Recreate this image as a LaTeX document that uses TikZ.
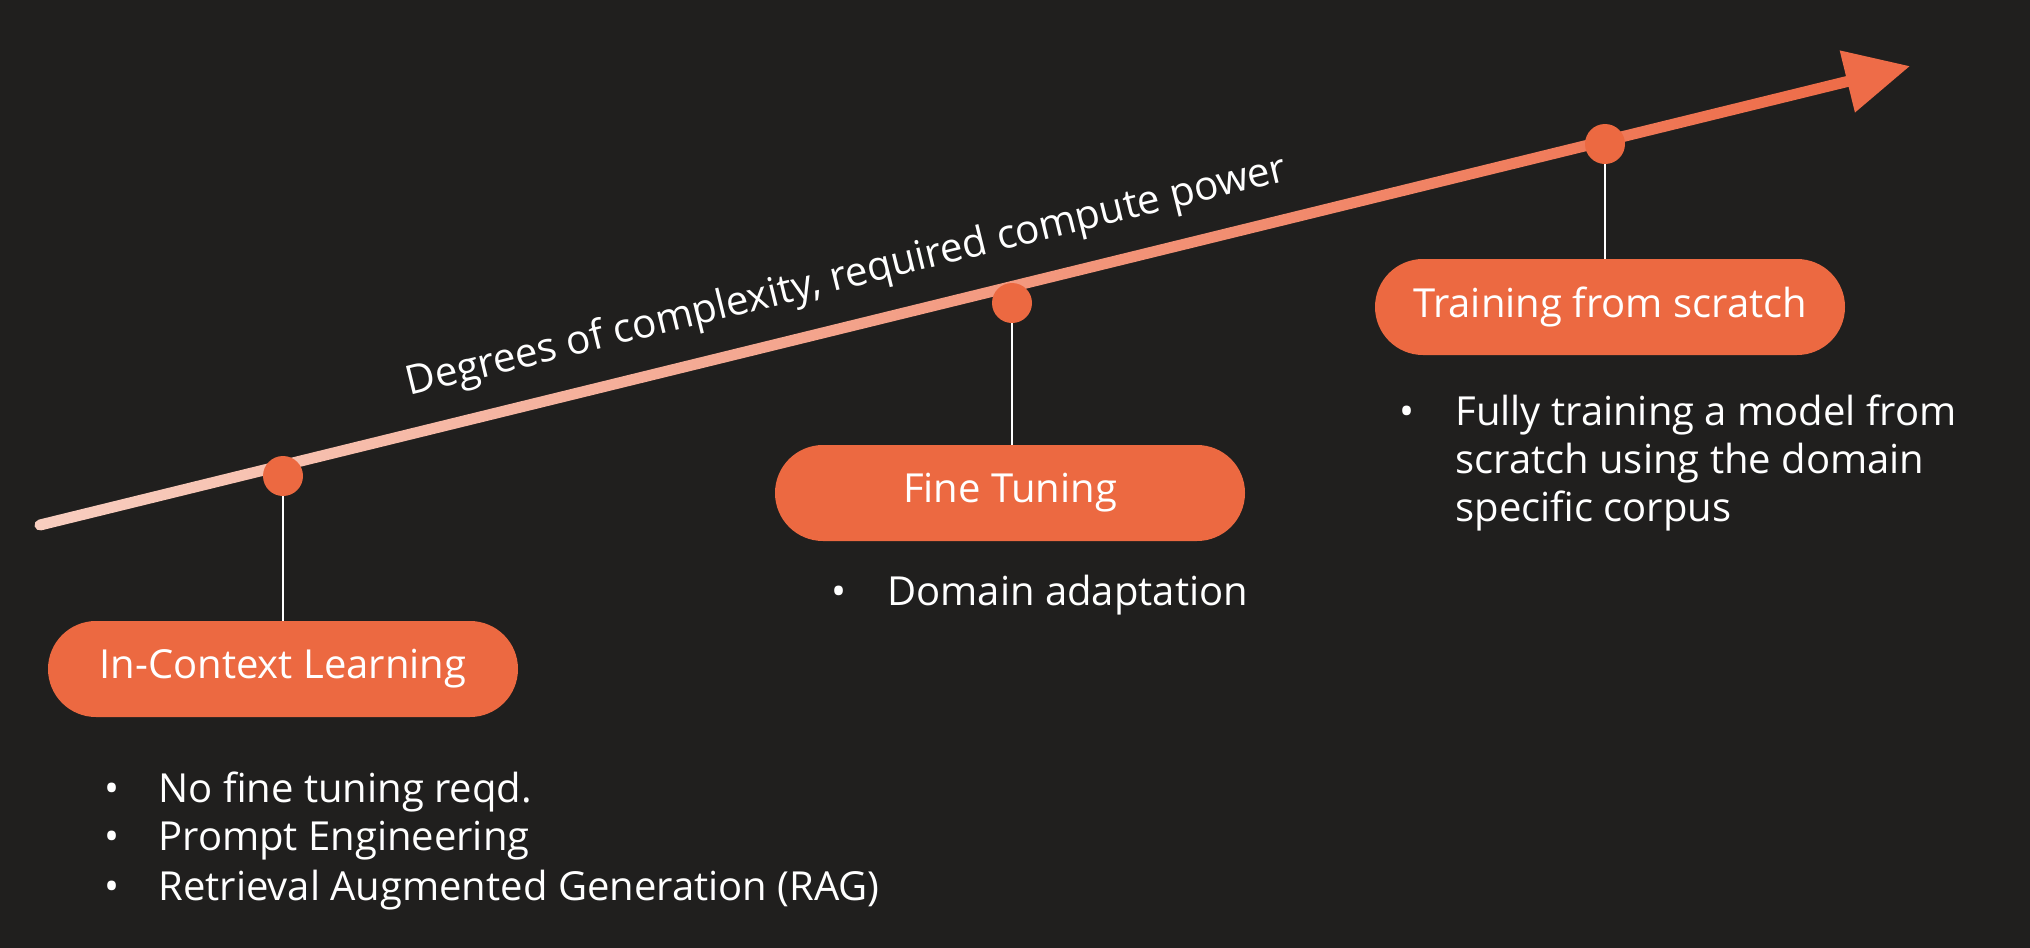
\documentclass[tikz,border=0pt]{standalone}
\usepackage{fontspec}
\setmainfont{Open Sans}
\usepackage{tikz}
\usetikzlibrary{arrows.meta,positioning,calc}
\definecolor{bgdark}{HTML}{201F1E}
\definecolor{acc}{HTML}{EC6941}
\definecolor{pale}{HTML}{F8CEC0}
\definecolor{midc}{HTML}{F4B29C}
\definecolor{tipc}{HTML}{EE6C48}
\tikzset{
  pill/.style={fill=acc,rounded corners=24pt,minimum width=235pt,minimum height=48pt,inner sep=0pt,
    font=\fontsize{20}{24}\selectfont,text=white},
  dot/.style={circle,fill=acc,minimum size=20pt,inner sep=0pt},
  stem/.style={draw=white,line width=1pt},
  note/.style={font=\fontsize{20}{24}\selectfont,text=white,inner sep=0pt,anchor=base west},
  bul/.style={note,anchor=base},
}

\begin{document}
\begin{tikzpicture}[x=0.5pt,y=-0.5pt]
\fill[bgdark] (0,0) rectangle (2030,948);
\useasboundingbox (0,0) rectangle (2030,948);
% axis
\begin{scope}[shift={(40,525)},rotate=13.79,y=0.5pt]
  \shade[left color=pale,middle color=midc,right color=tipc]
    (0,5.5) arc[start angle=90,end angle=270,radius=5.5] -- (1862,-5.5) -- (1862,5.5) -- cycle;
  \fill[tipc] (1861,32) -- (1925,0) -- (1861,-32) -- cycle;
\end{scope}
\node[font=\fontsize{20.2}{24}\selectfont,text=white,rotate=13.79,anchor=base,inner sep=0pt] (axislabel)
  at (849,288) {Degrees of complexity, required compute power};
% stages
\foreach \n/\dx/\dy/\px/\py/\t in {icl/283/476/283/669/In-Context Learning,
    ft/1012/303/1010/493/Fine Tuning, tfs/1605/144/1610/307/Training from scratch}{
  \node[dot] (dot-\n) at (\dx,\dy) {};
  \node[pill] (pill-\n) at (\px,\py) {\t};
  \draw[stem] (dot-\n) -- (dot-\n |- pill-\n.north);
}
% notes
\foreach \y/\t [count=\i] in {802/No fine tuning reqd., 850/Prompt Engineering,
    900/{Retrieval Augmented Generation (RAG)}}{
  \node[bul] (iclb\i) at (112,\y) {•};
  \node[note] (icl\i) at (158,\y) {\t};
}
\node[bul] (ftb1) at (839,605) {•};
\node[note] (ft1) at (887,605) {Domain adaptation};
\node[bul] (tfsb1) at (1407,425) {•};
\foreach \y/\t [count=\i] in {425/Fully training a model from, 473/scratch using the domain,
    521/specific corpus}
  \node[note] (tfs\i) at (1455,\y) {\t};
\end{tikzpicture}
\end{document}
